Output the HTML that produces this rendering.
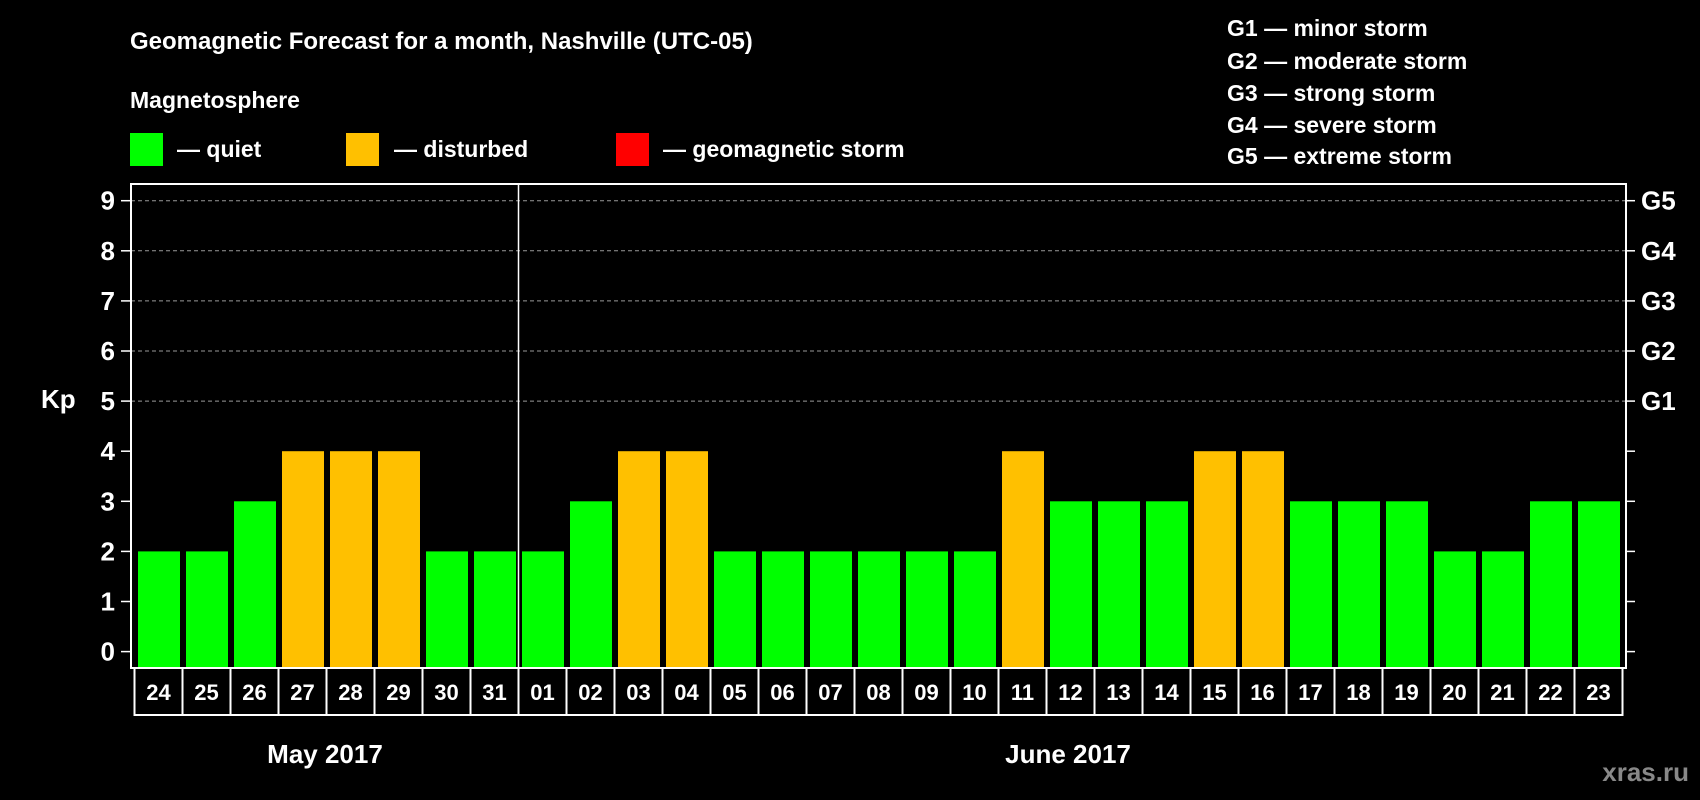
<!DOCTYPE html>
<html><head><meta charset="utf-8"><style>
html,body{margin:0;padding:0;background:#000;width:1700px;height:800px;overflow:hidden}
svg text{font-family:"Liberation Sans",Arial,sans-serif;font-weight:bold;fill:#fff}
</style></head><body>
<svg id="c" width="1700" height="800" xmlns="http://www.w3.org/2000/svg">
<rect width="1700" height="800" fill="#000"/>
<text x="130" y="49" font-size="24">Geomagnetic Forecast for a month, Nashville (UTC-05)</text>
<text x="130" y="108" font-size="23">Magnetosphere</text>
<g><rect x="130" y="133" width="33" height="33" fill="#00ff00"/><text x="177" y="157" font-size="23">— quiet</text></g>
<g><rect x="346" y="133" width="33" height="33" fill="#ffc000"/><text x="394" y="157" font-size="23">— disturbed</text></g>
<g><rect x="616" y="133" width="33" height="33" fill="#ff0000"/><text x="663" y="157" font-size="23">— geomagnetic storm</text></g>
<g font-size="23">
<text x="1227" y="36">G1 — minor storm</text>
<text x="1227" y="69">G2 — moderate storm</text>
<text x="1227" y="101">G3 — strong storm</text>
<text x="1227" y="133">G4 — severe storm</text>
<text x="1227" y="164">G5 — extreme storm</text>
</g>
<text x="41" y="408" font-size="26">Kp</text>
<text x="325" y="763" font-size="26" text-anchor="middle">May 2017</text>
<text x="1068" y="763" font-size="26" text-anchor="middle">June 2017</text>
<text x="1689" y="781" font-size="26" text-anchor="end" style="fill:#888">xras.ru</text>
<g id="plot"></g>
</svg>
<script>
const days=["24","25","26","27","28","29","30","31","01","02","03","04","05","06","07","08","09","10","11","12","13","14","15","16","17","18","19","20","21","22","23"];
const kp=[2,2,3,4,4,4,2,2,2,3,4,4,2,2,2,2,2,2,4,3,3,3,4,4,3,3,3,2,2,3,3];
const yTicks=[0,1,2,3,4,5,6,7,8,9];
const gLabels=["G1","G2","G3","G4","G5"];
const NS="http://www.w3.org/2000/svg";
const g=document.getElementById('plot');
const L=131,R=1626,T=184,B=668,y0=651.6,unit=50.1,x0=134.5,pitch=48;
const y=v=>y0-v*unit;
const x=i=>x0+i*pitch;
function mk(t,a){const e=document.createElementNS(NS,t);for(const k in a)e.setAttribute(k,a[k]);g.appendChild(e);return e;}
yTicks.forEach(v=>{
  if(v>=5){const l=mk('line',{x1:L,x2:R,y1:y(v),y2:y(v),stroke:'#999','stroke-width':1,'stroke-dasharray':'4,3'});
  
  }
  const t1=mk('line',{x1:L-10,x2:L,y1:y(v),y2:y(v),stroke:'#fff','stroke-width':1.5});
  
  
  const t2=mk('line',{x1:R,x2:R+9,y1:y(v),y2:y(v),stroke:'#fff','stroke-width':1.5});
  
  
  const tx=mk('text',{x:115,y:y(v)+9,'font-size':26,'text-anchor':'end'});tx.textContent=v;
  
  
});
gLabels.forEach((s,i)=>{const tx=mk('text',{x:1641,y:y(5+i)+9,'font-size':26});tx.textContent=s;
  
  });
kp.forEach((v,i)=>{
  const r=mk('rect',{x:x(i)+3.5,y:y(v),width:42,height:B-y(v),fill:v>=5?'#ff0000':(v>=4?'#ffc000':'#00ff00')});
  
  
  const b=mk('rect',{x:x(i),y:B,width:pitch,height:47,fill:'none',stroke:'#fff','stroke-width':2});
  
  
  const t=mk('text',{x:x(i)+pitch/2,y:B+32,'font-size':22,'text-anchor':'middle'});t.textContent=days[i];
  
  
});
const f=mk('rect',{x:L,y:T,width:R-L,height:B-T,fill:'none',stroke:'#fff','stroke-width':2});


const sep=mk('line',{x1:x(8),x2:x(8),y1:T,y2:B,stroke:'#fff','stroke-width':1.5});


</script>
</body></html>
